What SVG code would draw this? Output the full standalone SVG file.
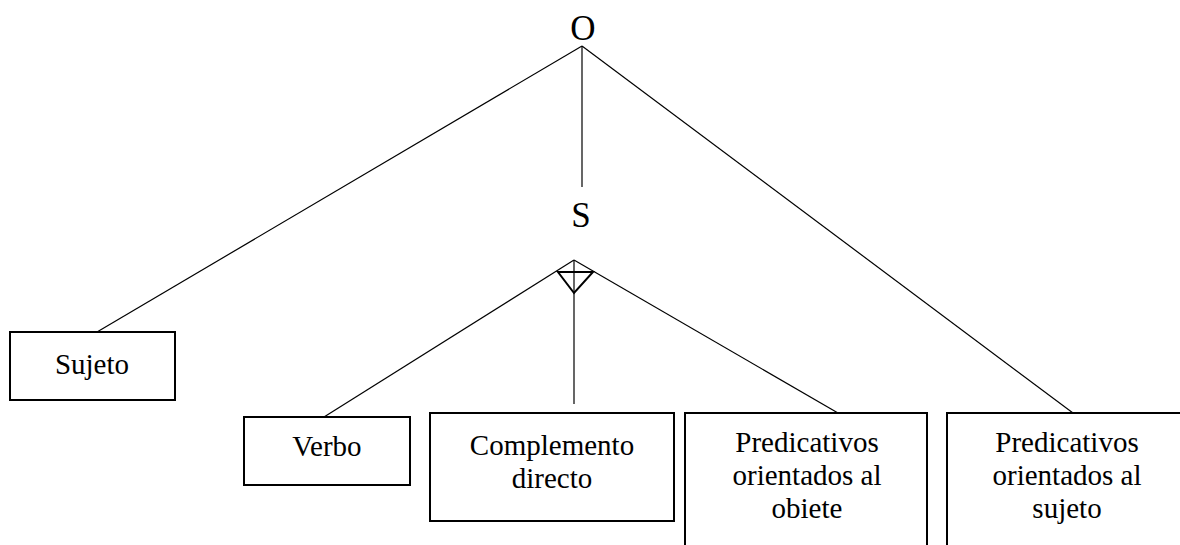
<svg xmlns="http://www.w3.org/2000/svg" width="1180" height="545" viewBox="0 0 1180 545">
<style>
.box{fill:#fff;stroke:#000;stroke-width:2}
.ln{stroke:#000;stroke-width:1.2;fill:none}
.t{font-family:'Liberation Serif','DejaVu Serif',serif;font-size:29px;fill:#000;text-anchor:middle}
.big{font-family:'Liberation Serif','DejaVu Serif',serif;font-size:35px;fill:#000;text-anchor:middle}
</style>
<rect width="1180" height="545" fill="#fff"/>
<g id="connectors">
<line class="ln" x1="582" y1="46" x2="97" y2="332"/>
<line class="ln" x1="582" y1="46" x2="582" y2="187"/>
<line class="ln" x1="582" y1="46" x2="1073" y2="413"/>
<line class="ln" x1="574" y1="260" x2="324" y2="417"/>
<line class="ln" x1="574" y1="260" x2="574" y2="404"/>
<line class="ln" x1="574" y1="260" x2="838" y2="413"/>
<polygon points="558,272 593,272 574,293" fill="none" stroke="#000" stroke-width="2"/>
</g>
<g id="node-O"><text class="big" x="583" y="40">O</text></g>
<g id="node-S"><text class="big" x="581" y="227">S</text></g>
<g id="node-sujeto">
<rect class="box" x="10" y="332" width="165" height="68"/>
<text class="t" x="92" y="374">Sujeto</text>
</g>
<g id="node-verbo">
<rect class="box" x="244" y="417" width="166" height="68"/>
<text class="t" x="327" y="456">Verbo</text>
</g>
<g id="node-cd">
<rect class="box" x="430" y="413" width="244" height="108"/>
<text class="t" x="552" y="455">Complemento</text>
<text class="t" x="552" y="488">directo</text>
</g>
<g id="node-pobj">
<rect class="box" x="685" y="413" width="242" height="160"/>
<text class="t" x="807" y="452">Predicativos</text>
<text class="t" x="807" y="485">orientados al</text>
<text class="t" x="807" y="518">obiete</text>
</g>
<g id="node-psuj">
<rect class="box" x="947" y="413" width="260" height="160"/>
<text class="t" x="1067" y="452">Predicativos</text>
<text class="t" x="1067" y="485">orientados al</text>
<text class="t" x="1067" y="518">sujeto</text>
</g>
</svg>
